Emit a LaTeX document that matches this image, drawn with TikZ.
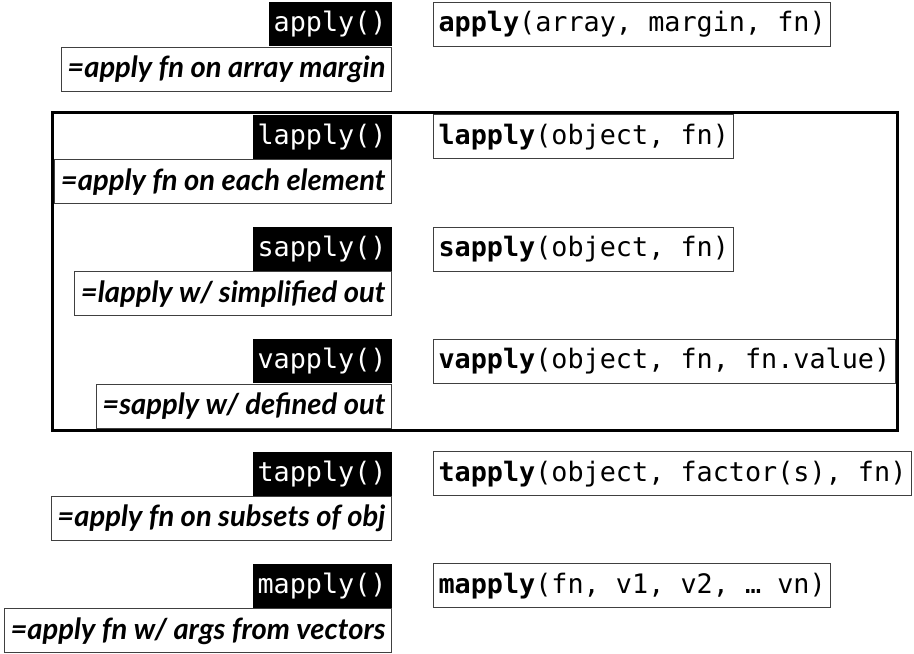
\documentclass[tikz,border=0pt]{standalone}
\usepackage{fontspec}
\usetikzlibrary{positioning,fit}
\newfontfamily\codefont{DejaVu Sans Mono}
\newfontfamily\descfont{Lato}

\begin{document}
\begin{tikzpicture}[x=0.5pt,y=-0.5pt]
    \tikzstyle{fname}=[rectangle,fill=black,text=white,font=\codefont\fontsize{13.4}{16}\selectfont,minimum height=22pt,inner xsep=2.5pt,inner ysep=0pt]  % black name tag
    \tikzstyle{fdesc}=[rectangle,draw=black!75,line width=0.5pt,fill=white,font=\descfont\bfseries\itshape\fontsize{14.6}{18}\selectfont,minimum height=22pt,inner xsep=3pt,inner ysep=0pt]  % what it does
    \tikzstyle{fsig}=[rectangle,draw=black!75,line width=0.5pt,fill=white,font=\codefont\fontsize{13.4}{16}\selectfont,minimum height=22pt,inner xsep=2.5pt,inner ysep=0pt]  % call signature

    \useasboundingbox (0,0) rectangle (914,653);

    % apply
    \node[fname,anchor=north east](apply) at (392,2) {apply()};
    \node[fdesc,below left=0pt of apply.south east](applydesc){=apply fn on array margin};
    \node[fsig,right=20.5pt of apply](applysig){\textbf{apply}(array, margin, fn)};
    % lapply
    \node[fname,below=11.25pt of applydesc.south east,anchor=north east](lapply){lapply()};
    \node[fdesc,below left=0pt of lapply.south east](lapplydesc){=apply fn on each element};
    \node[fsig,right=20.5pt of lapply](lapplysig){\textbf{lapply}(object, fn)};
    % sapply
    \node[fname,below=11.25pt of lapplydesc.south east,anchor=north east](sapply){sapply()};
    \node[fdesc,below left=0pt of sapply.south east](sapplydesc){=lapply w/ simplified out};
    \node[fsig,right=20.5pt of sapply](sapplysig){\textbf{sapply}(object, fn)};
    % vapply
    \node[fname,below=11.25pt of sapplydesc.south east,anchor=north east](vapply){vapply()};
    \node[fdesc,below left=0pt of vapply.south east](vapplydesc){=sapply w/ defined out};
    \node[fsig,right=20.5pt of vapply](vapplysig){\textbf{vapply}(object, fn, fn.value)};
    % tapply
    \node[fname,below=11.25pt of vapplydesc.south east,anchor=north east](tapply){tapply()};
    \node[fdesc,below left=0pt of tapply.south east](tapplydesc){=apply fn on subsets of obj};
    \node[fsig,right=20.5pt of tapply](tapplysig){\textbf{tapply}(object, factor(s), fn)};
    % mapply
    \node[fname,below=11.25pt of tapplydesc.south east,anchor=north east](mapply){mapply()};
    \node[fdesc,below left=0pt of mapply.south east](mapplydesc){=apply fn w/ args from vectors};
    \node[fsig,right=20.5pt of mapply](mapplysig){\textbf{mapply}(fn, v1, v2, … vn)};

    % frame round the list family
    \node[draw,line width=1.5pt,inner sep=0.75pt,fit=(lapply)(lapplydesc)(vapplysig)(vapplydesc)](listgroup){};
\end{tikzpicture}
\end{document}
